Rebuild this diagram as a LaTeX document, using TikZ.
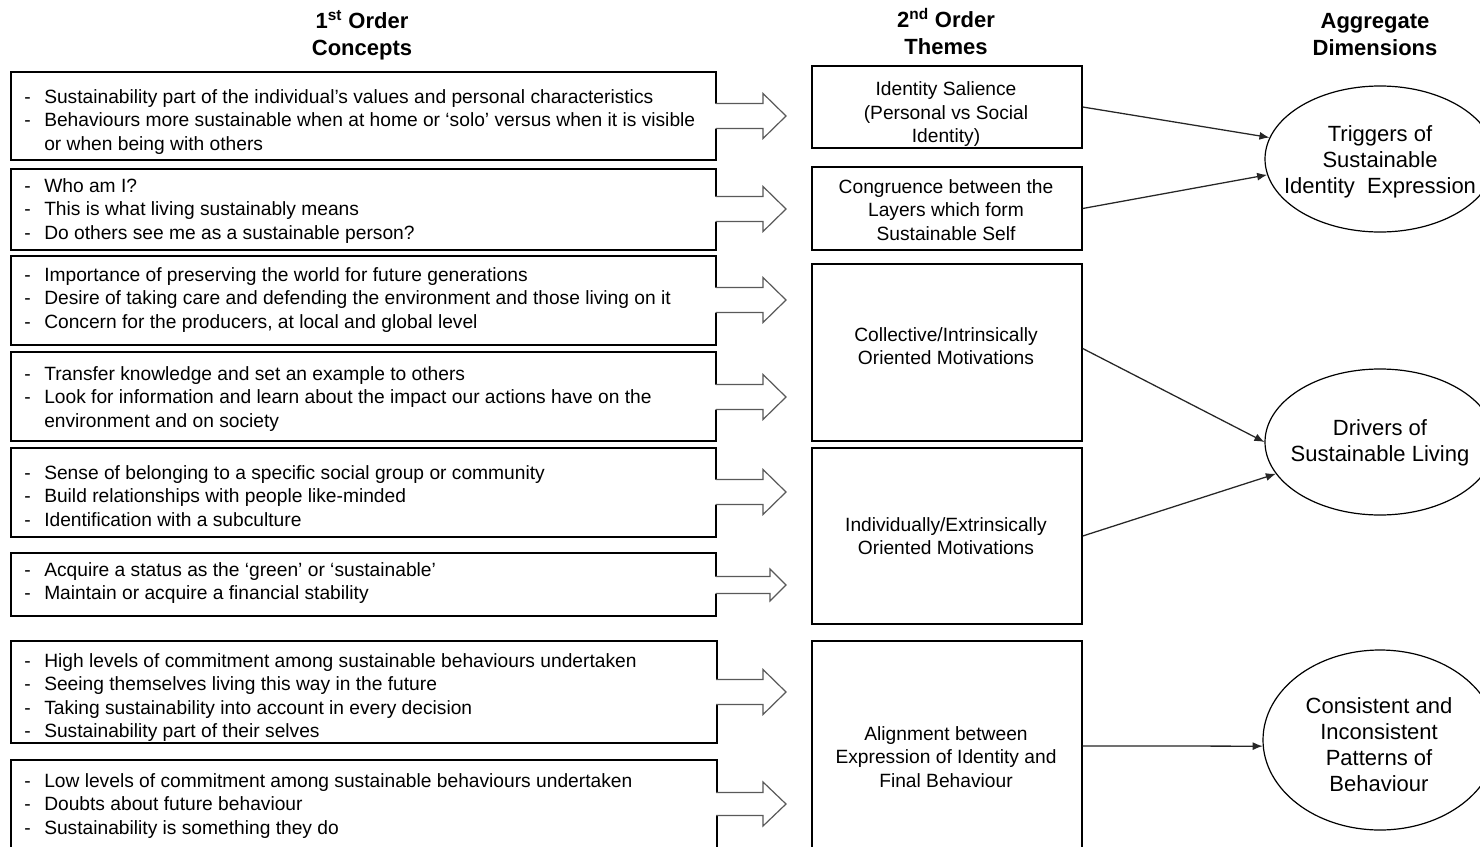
\documentclass[tikz,border=0pt]{standalone}
\usepackage{fontspec}
\setmainfont{Liberation Sans}
\usetikzlibrary{shapes.geometric,arrows.meta,fit}
\newcommand\dsh{\makebox[15pt][l]{-}}
\newcommand\ind{\hspace*{15pt}}
\begin{document}
\begin{tikzpicture}[x=0.75pt,y=-0.75pt,
  boxframe/.style={draw=black, line width=1.05pt, inner sep=0pt, rectangle},
  ltext/.style={anchor=west, inner sep=0pt, align=left, font=\fontsize{14.4pt}{17.6pt}\selectfont},
  mtext/.style={inner sep=0pt, align=center, font=\fontsize{14.4pt}{17.6pt}\selectfont},
  etext/.style={inner sep=0pt, align=center, font=\fontsize{16.5pt}{19.5pt}\selectfont},
  head/.style={inner sep=0pt, align=center, font=\bfseries\fontsize{16.5pt}{20.25pt}\selectfont},
  dim/.style={draw=black, line width=0.9pt, ellipse, inner sep=0pt},
  conn/.style={draw=black!85, line width=0.95pt, -{Latex[length=7.5pt,width=6pt]}},
  barrowline/.style={draw=black!65, line width=0.9pt, line join=miter}
]
\clip (0,0) rectangle (1480,846);
\fill[white] (0,0) rectangle (1480,846);

% headers
\node[head] (h1) at (362,35.5) {1\textsuperscript{st} Order\\Concepts};
\node[head] (h2) at (946,31.5) {2\textsuperscript{nd} Order\\Themes};
\node[head] (h3) at (1375,34.5) {Aggregate\\Dimensions};

% left boxes
\node[boxframe, fit={(11,72) (716,160)}] (L1) {};
\node[boxframe, fit={(11,169) (716,250)}] (L2) {};
\node[boxframe, fit={(11,256) (716,345)}] (L3) {};
\node[boxframe, fit={(11,352) (716,441)}] (L4) {};
\node[boxframe, fit={(11,448) (716,537)}] (L5) {};
\node[boxframe, fit={(11,553) (716,616)}] (L6) {};
\node[boxframe, fit={(11,641) (717,743)}] (L7) {};
\node[boxframe, fit={(11,760) (717,870)}] (L8) {};

\node[ltext] (L1t) at (24,122) {\dsh Sustainability part of the individual’s values and personal characteristics\\
\dsh Behaviours more sustainable when at home or ‘solo’ versus when it is visible\\
\ind or when being with others};
\node[ltext] (L2t) at (24,211) {\dsh Who am I?\\
\dsh This is what living sustainably means\\
\dsh Do others see me as a sustainable person?};
\node[ltext] (L3t) at (24,300) {\dsh Importance of preserving the world for future generations\\
\dsh Desire of taking care and defending the environment and those living on it\\
\dsh Concern for the producers, at local and global level};
\node[ltext] (L4t) at (24,399) {\dsh Transfer knowledge and set an example to others\\
\dsh Look for information and learn about the impact our actions have on the\\
\ind environment and on society};
\node[ltext] (L5t) at (24,496) {\dsh Sense of belonging to a specific social group or community\\
\dsh Build relationships with people like-minded\\
\dsh Identification with a subculture};
\node[ltext] (L6t) at (24,583) {\dsh Acquire a status as the ‘green’ or ‘sustainable’\\
\dsh Maintain or acquire a financial stability};
\node[ltext] (L7t) at (24,697.5) {\dsh High levels of commitment among sustainable behaviours undertaken\\
\dsh Seeing themselves living this way in the future\\
\dsh Taking sustainability into account in every decision\\
\dsh Sustainability part of their selves};
\node[ltext] (L8t) at (24,806) {\dsh Low levels of commitment among sustainable behaviours undertaken\\
\dsh Doubts about future behaviour\\
\dsh Sustainability is something they do};

% block arrows: #1 centre y, #2 shaft half height, #3 head half height, #4 shaft end x
\newcommand\blockarrow[4]{%
  \fill[white] (713,{#1-#2}) -- (#4,{#1-#2}) -- (#4,{#1-#3}) -- (786,#1) -- (#4,{#1+#3}) -- (#4,{#1+#2}) -- (713,{#1+#2}) -- cycle;
  \draw[barrowline] (716,{#1-#2}) -- (#4,{#1-#2}) -- (#4,{#1-#3}) -- (786,#1) -- (#4,{#1+#3}) -- (#4,{#1+#2}) -- (716,{#1+#2});
}
\blockarrow{116}{12.5}{22.5}{763}
\blockarrow{209}{12.5}{22.5}{763}
\blockarrow{300}{12.5}{22.5}{763}
\blockarrow{397}{12.5}{22.5}{763}
\blockarrow{492}{12.5}{22.5}{763}
\blockarrow{585}{8.5}{16}{770}
\blockarrow{692}{12.5}{22.5}{763}
\blockarrow{804}{11.5}{22}{763}

% middle boxes
\node[boxframe, fit={(812,66) (1082,148)}] (A) {};
\node[boxframe, fit={(812,167) (1082,250)}] (B) {};
\node[boxframe, fit={(812,264) (1082,441)}] (C) {};
\node[boxframe, fit={(812,448) (1082,624)}] (D) {};
\node[boxframe, fit={(812,641) (1082,851)}] (E) {};

\node[mtext] (At) at (946,114.5) {Identity Salience\\(Personal vs Social\\Identity)};
\node[mtext] (Bt) at (946,210) {Congruence between the\\Layers which form\\Sustainable Self};
\node[mtext] (Ct) at (946,346) {Collective/Intrinsically\\Oriented Motivations};
\node[mtext] (Dt) at (946,536) {Individually/Extrinsically\\Oriented Motivations};
\node[mtext] (Et) at (946,757) {Alignment between\\Expression of Identity and\\Final Behaviour};

% aggregate dimensions
\node[dim, minimum width=172.5pt, minimum height=109.5pt] (T1) at (1380,159) {};
\node[dim, minimum width=172.5pt, minimum height=109.5pt] (T2) at (1380,442) {};
\node[dim, minimum width=175.5pt, minimum height=135pt] (T3) at (1380,740) {};
\node[etext] (T1t) at (1380,162) {Triggers of\\Sustainable\\Identity\ \ Expression};
\node[etext] (T2t) at (1380,442.5) {Drivers of\\Sustainable Living};
\node[etext] (T3t) at (1379,745) {Consistent and\\Inconsistent\\Patterns of\\Behaviour};

% connectors
\draw[conn] (A.east) -- (T1.169);
\draw[conn] (B.east) -- (T1.188);
\draw[conn] (C.east) ++(0,-4) -- (T2.180);
\draw[conn] (D.east) -- (T2.197);
\draw[conn] (E.east) -- (T3.183);
\end{tikzpicture}
\end{document}
